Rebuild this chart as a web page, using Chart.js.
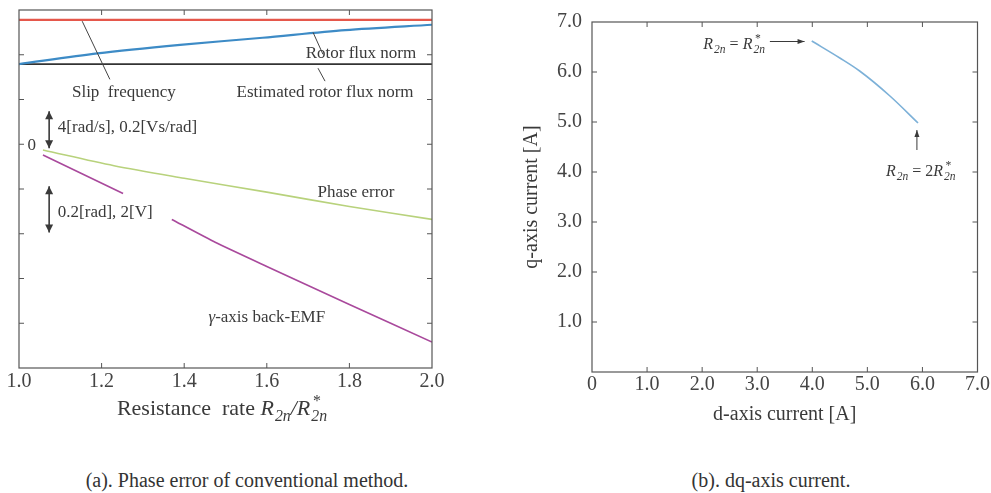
<!DOCTYPE html>
<html><head><meta charset="utf-8">
<script src="https://cdn.jsdelivr.net/npm/chart.js@4"></script>
<style>
body{margin:0;background:#fff;width:991px;height:493px;overflow:hidden;position:relative;font-family:"Liberation Serif",serif;}
#wa{position:absolute;left:0;top:0;width:470px;height:440px}
#wb{position:absolute;left:480px;top:0;width:511px;height:440px}
.cap{position:absolute;top:468px;font-size:20px;line-height:24px;color:#333;white-space:nowrap;transform:translateX(-50%)}
</style></head><body>
<div id="wa"><canvas id="ca"></canvas></div>
<div id="wb"><canvas id="cb"></canvas></div>
<div class="cap" style="left:247px">(a). Phase error of conventional method.</div>
<div class="cap" style="left:771px">(b). dq-axis current.</div>
<script>
// ---- data: panel (a) ----
const rateTicks = [1.0, 1.2, 1.4, 1.6, 1.8, 2.0];
const rateTickLabels = ['1.0', '1.2', '1.4', '1.6', '1.8', '2.0'];
const levelTicks = [-5, -4, -3, -2, -1, 0, 1, 2, 3];
const slipX = [1.0, 2.0];
const slipFrequency = [2.78, 2.78];
const rotorX = [1.0, 1.19, 1.39, 1.59, 1.79, 2.0];
const rotorFluxNorm = [1.79, 2.03, 2.22, 2.38, 2.55, 2.67];
const estX = [1.0, 2.0];
const estRotorFluxNorm = [1.79, 1.79];
const phaseX = [1.058, 1.23, 1.4, 1.6, 1.8, 2.0];
const phaseError = [-0.13, -0.48, -0.76, -1.07, -1.39, -1.68];
const emfX = [1.058, 1.252, 1.31, 1.37, 1.475, 1.6, 1.8, 2.0];
const backEmf = [-0.24, -1.10, null, -1.68, -2.19, -2.73, -3.58, -4.42];
// ---- data: panel (b) ----
const dTicks = [0, 1, 2, 3, 4, 5, 6, 7];
const dTickLabels = ['0', '1.0', '2.0', '3.0', '4.0', '5.0', '6.0', '7.0'];
const qTicks = [0, 1, 2, 3, 4, 5, 6, 7];
const qTickLabels = ['', '1.0', '2.0', '3.0', '4.0', '5.0', '6.0', '7.0'];
const dCurrent = [3.99, 4.50, 4.86, 5.41, 5.92];
const qCurrent = [6.62, 6.28, 6.02, 5.52, 4.98];

const FONT = '"Liberation Serif", serif';
const TXT = '#3a3a3a';
const pts = (xs, ys) => xs.map((x, i) => ({x, y: ys[i]}));

function drawRuns(ctx, runs, x, yc, size, align) {
  const base = yc + size * 0.33;
  const sub = size * 0.72;
  const fontOf = (s, it) => (it ? 'italic ' : '') + s + 'px ' + FONT;
  const widths = runs.map(r => {
    if (r.k === 'subsup') {
      ctx.font = fontOf(sub, true);
      return Math.max(ctx.measureText(r.sub).width, ctx.measureText(r.sup).width) + 1;
    }
    if (r.k === 'sub') { ctx.font = fontOf(sub, true); return ctx.measureText(r.t).width + 1; }
    ctx.font = fontOf(size, r.k === 'i'); return ctx.measureText(r.t).width;
  });
  const total = widths.reduce((a, b) => a + b, 0);
  let cx = align === 'center' ? x - total / 2 : (align === 'right' ? x - total : x);
  ctx.textAlign = 'left'; ctx.textBaseline = 'alphabetic'; ctx.fillStyle = TXT;
  runs.forEach((r, i) => {
    if (r.k === 'subsup') {
      ctx.font = fontOf(sub, true);
      ctx.fillText(r.sub, cx + 1, base + size * 0.25);
      ctx.fillText(r.sup, cx + 2, base - size * 0.42);
    } else if (r.k === 'sub') {
      ctx.font = fontOf(sub, true);
      ctx.fillText(r.t, cx + 1, base + size * 0.25);
    } else {
      ctx.font = fontOf(size, r.k === 'i');
      ctx.fillText(r.t, cx, base);
    }
    cx += widths[i];
  });
}

function arrowHead(ctx, x1, y1, x2, y2, len, wid) {
  const a = Math.atan2(y2 - y1, x2 - x1);
  ctx.beginPath();
  ctx.moveTo(x2, y2);
  ctx.lineTo(x2 - len * Math.cos(a) + wid * Math.sin(a), y2 - len * Math.sin(a) - wid * Math.cos(a));
  ctx.lineTo(x2 - len * Math.cos(a) - wid * Math.sin(a), y2 - len * Math.sin(a) + wid * Math.cos(a));
  ctx.closePath(); ctx.fill();
}
function arrow(ctx, x1, y1, x2, y2, both, len, wid, lw) {
  ctx.save();
  ctx.strokeStyle = '#3a3a3a'; ctx.fillStyle = '#3a3a3a'; ctx.lineWidth = lw;
  ctx.beginPath(); ctx.moveTo(x1, y1); ctx.lineTo(x2, y2); ctx.stroke();
  arrowHead(ctx, x1, y1, x2, y2, len, wid);
  if (both) arrowHead(ctx, x2, y2, x1, y1, len, wid);
  ctx.restore();
}

const framePlugin = {
  id: 'frame',
  afterDatasetsDraw(chart) {
    const {ctx, chartArea: a, scales: {x, y}} = chart;
    ctx.save();
    ctx.strokeStyle = '#555'; ctx.lineWidth = 1.2;
    ctx.strokeRect(a.left, a.top, a.right - a.left, a.bottom - a.top);
    ctx.lineWidth = 1;
    ctx.beginPath();
    x.ticks.forEach(t => {
      const px = x.getPixelForValue(t.value);
      if (px <= a.left + 1 || px >= a.right - 1) return;
      ctx.moveTo(px, a.bottom); ctx.lineTo(px, a.bottom - 5);
      ctx.moveTo(px, a.top); ctx.lineTo(px, a.top + 5);
    });
    y.ticks.forEach(t => {
      const py = y.getPixelForValue(t.value);
      if (py <= a.top + 1 || py >= a.bottom - 1) return;
      ctx.moveTo(a.left, py); ctx.lineTo(a.left + 5, py);
      ctx.moveTo(a.right, py); ctx.lineTo(a.right - 5, py);
    });
    ctx.stroke();
    ctx.restore();
  }
};

const annA = {
  id: 'annA',
  afterDraw(chart) {
    const {ctx, scales: {x, y}} = chart;
    const X = v => x.getPixelForValue(v), Y = v => y.getPixelForValue(v);
    ctx.save();
    // leader lines
    ctx.strokeStyle = '#444'; ctx.lineWidth = 1;
    ctx.beginPath();
    ctx.moveTo(X(1.153), Y(2.75)); ctx.lineTo(X(1.22), Y(1.45));
    ctx.moveTo(X(1.712), Y(2.50)); ctx.lineTo(X(1.736), Y(2.01));
    ctx.moveTo(X(1.724), Y(1.70)); ctx.lineTo(X(1.741), Y(1.41));
    ctx.stroke();
    // scale arrows
    arrow(ctx, X(1.073), Y(0.74), X(1.073), Y(-0.09), true, 8, 4, 1.6);
    arrow(ctx, X(1.073), Y(-0.94), X(1.073), Y(-1.97), true, 8, 4, 1.6);
    // labels
    const s = 17;
    drawRuns(ctx, [{k: 'n', t: 'Slip  frequency'}], X(1.254), Y(1.18), s, 'center');
    drawRuns(ctx, [{k: 'n', t: 'Estimated rotor flux norm'}], X(1.741), Y(1.18), s, 'center');
    drawRuns(ctx, [{k: 'n', t: 'Rotor flux norm'}], X(1.828), Y(2.06), s, 'center');
    drawRuns(ctx, [{k: 'n', t: '0'}], X(1.031), Y(0), s, 'center');
    drawRuns(ctx, [{k: 'n', t: '4[rad/s], 0.2[Vs/rad]'}], X(1.094), Y(0.40), s, 'left');
    drawRuns(ctx, [{k: 'n', t: 'Phase error'}], X(1.816), Y(-1.05), s, 'center');
    drawRuns(ctx, [{k: 'n', t: '0.2[rad], 2[V]'}], X(1.094), Y(-1.50), s, 'left');
    drawRuns(ctx, [{k: 'i', t: 'γ'}, {k: 'n', t: '-axis back-EMF'}], X(1.600), Y(-3.84), s, 'center');
    // axis title
    drawRuns(ctx, [{k: 'n', t: 'Resistance  rate '}, {k: 'i', t: 'R'}, {k: 'sub', t: '2n'}, {k: 'i', t: '/'}, {k: 'i', t: 'R'}, {k: 'subsup', sub: '2n', sup: '*'}],
      222, 408, 22, 'center');
    ctx.restore();
  }
};

const annB = {
  id: 'annB',
  afterDraw(chart) {
    const {ctx, scales: {x, y}} = chart;
    const X = v => x.getPixelForValue(v), Y = v => y.getPixelForValue(v);
    ctx.save();
    arrow(ctx, X(3.23), Y(6.61), X(3.86), Y(6.61), false, 7, 2.5, 1);
    arrow(ctx, X(5.90), Y(4.44), X(5.90), Y(4.84), false, 7, 2.5, 1);
    const s = 16;
    drawRuns(ctx, [{k: 'i', t: 'R'}, {k: 'sub', t: '2n'}, {k: 'n', t: ' = '}, {k: 'i', t: 'R'}, {k: 'subsup', sub: '2n', sup: '*'}],
      X(3.14), Y(6.57), s, 'right');
    drawRuns(ctx, [{k: 'i', t: 'R'}, {k: 'sub', t: '2n'}, {k: 'n', t: ' = 2'}, {k: 'i', t: 'R'}, {k: 'subsup', sub: '2n', sup: '*'}],
      X(5.97), Y(4.03), s, 'center');
    ctx.restore();
  }
};

const tickFont = {family: FONT, size: 20};

new Chart(document.getElementById('ca'), {
  type: 'line',
  data: {datasets: [
    {label: 'Slip frequency', data: pts(slipX, slipFrequency), borderColor: '#e5574b', borderWidth: 2.2, pointRadius: 0},
    {label: 'Rotor flux norm', data: pts(rotorX, rotorFluxNorm), borderColor: '#3d8bc6', borderWidth: 2.2, pointRadius: 0, tension: 0.3},
    {label: 'Estimated rotor flux norm', data: pts(estX, estRotorFluxNorm), borderColor: '#333333', borderWidth: 1.6, pointRadius: 0},
    {label: 'Phase error', data: pts(phaseX, phaseError), borderColor: '#b8d27c', borderWidth: 1.6, pointRadius: 0, tension: 0.3},
    {label: 'γ-axis back-EMF', data: pts(emfX, backEmf), borderColor: '#a9499c', borderWidth: 1.6, pointRadius: 0, spanGaps: false, tension: 0.2}
  ]},
  options: {
    responsive: true, maintainAspectRatio: false, animation: false,
    layout: {padding: {left: 19, top: 10, right: 38, bottom: 0}},
    plugins: {legend: {display: false}, tooltip: {enabled: false}},
    scales: {
      x: {type: 'linear', min: 1, max: 2,
        afterBuildTicks: s => { s.ticks = rateTicks.map(v => ({value: v})); },
        ticks: {callback: (v, i) => rateTickLabels[i], font: tickFont, color: '#444', padding: 2, maxRotation: 0, autoSkip: false},
        grid: {display: false, drawTicks: false}, border: {display: false},
        afterFit: s => { s.height = 72; }},
      y: {type: 'linear', min: -5, max: 3,
        afterBuildTicks: s => { s.ticks = levelTicks.map(v => ({value: v})); },
        ticks: {display: false}, grid: {display: false, drawTicks: false}, border: {display: false},
        afterFit: s => { s.width = 0; }}
    }
  },
  plugins: [framePlugin, annA]
});

new Chart(document.getElementById('cb'), {
  type: 'line',
  data: {datasets: [
    {label: 'dq-axis current', data: pts(dCurrent, qCurrent), borderColor: '#7db1d8', borderWidth: 1.6, pointRadius: 0, cubicInterpolationMode: 'monotone'}
  ]},
  options: {
    responsive: true, maintainAspectRatio: false, animation: false,
    layout: {padding: {left: 0, top: 13, right: 13, bottom: 0}},
    plugins: {legend: {display: false}, tooltip: {enabled: false}},
    scales: {
      x: {type: 'linear', min: 0, max: 7,
        afterBuildTicks: s => { s.ticks = dTicks.map(v => ({value: v})); },
        ticks: {callback: (v, i) => dTickLabels[i], font: tickFont, color: '#444', padding: 1, maxRotation: 0, autoSkip: false},
        grid: {display: false, drawTicks: false}, border: {display: false},
        title: {display: true, text: 'd-axis current [A]', font: {family: FONT, size: 20}, color: '#3a3a3a', padding: {top: 0, bottom: 13}},
        afterFit: s => { s.height = 68; }},
      y: {type: 'linear', min: 0, max: 7,
        afterBuildTicks: s => { s.ticks = qTicks.map(v => ({value: v})); },
        ticks: {callback: (v, i) => qTickLabels[i], font: tickFont, color: '#444', padding: 10, autoSkip: false},
        grid: {display: false, drawTicks: false}, border: {display: false},
        title: {display: true, text: 'q-axis current [A]', font: {family: FONT, size: 20}, color: '#3a3a3a', padding: {top: 40, bottom: 0}},
        afterFit: s => { s.width = 112; }}
    }
  },
  plugins: [framePlugin, annB]
});
</script>
</body></html>
